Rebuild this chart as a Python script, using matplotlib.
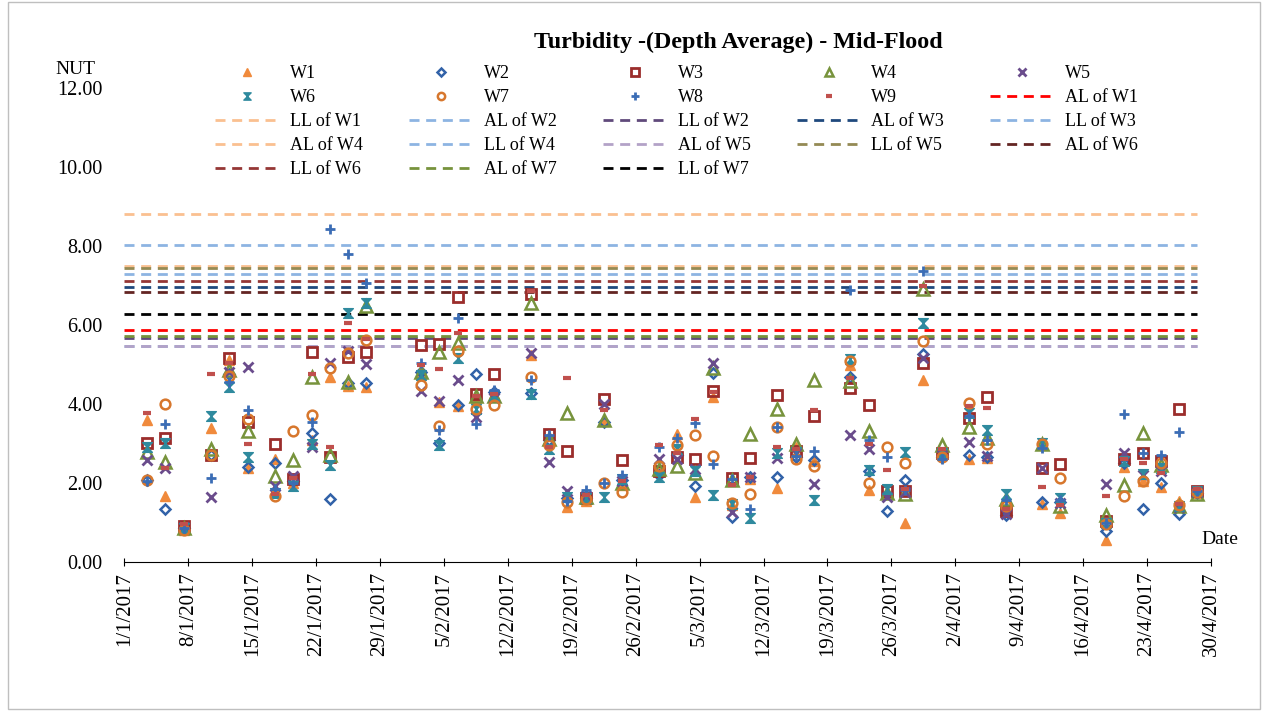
import matplotlib
matplotlib.use("Agg")
import matplotlib.pyplot as plt
from matplotlib.path import Path
import datetime as dt

plt.rcParams['font.family'] = ['Liberation Serif', 'DejaVu Serif']

dates = ["2017-01-03","2017-01-05","2017-01-07","2017-01-10","2017-01-12","2017-01-14","2017-01-17",
         "2017-01-19","2017-01-21","2017-01-23","2017-01-25","2017-01-27","2017-02-02","2017-02-04",
         "2017-02-06","2017-02-08","2017-02-10","2017-02-14","2017-02-16","2017-02-18","2017-02-20",
         "2017-02-22","2017-02-24","2017-02-28","2017-03-02","2017-03-04","2017-03-06","2017-03-08",
         "2017-03-10","2017-03-13","2017-03-15","2017-03-17","2017-03-21","2017-03-23","2017-03-25",
         "2017-03-27","2017-03-29","2017-03-31","2017-04-03","2017-04-05","2017-04-07","2017-04-11",
         "2017-04-13","2017-04-18","2017-04-20","2017-04-22","2017-04-24","2017-04-26","2017-04-28"]

w1 = [3.60,1.67,0.82,3.40,5.12,2.38,2.62,2.00,3.10,4.69,4.45,4.42,4.75,4.05,3.95,4.15,4.25,5.25,3.20,1.38,
      1.55,3.58,1.95,2.30,3.25,1.65,4.18,1.45,2.10,1.87,2.92,2.55,4.98,1.83,1.72,1.00,4.61,2.72,2.60,2.63,
      1.30,1.48,1.25,0.56,2.40,2.05,1.90,1.55,1.75]
w2 = [2.07,1.33,0.85,2.70,4.75,2.41,2.51,2.05,3.26,1.59,4.52,4.52,4.80,3.02,3.97,4.75,4.30,4.27,3.10,1.62,
      1.62,3.55,2.08,2.20,2.70,1.92,4.79,1.15,2.14,2.16,2.65,2.57,4.68,2.30,1.30,2.07,5.26,2.65,2.71,2.65,
      1.18,1.53,1.53,0.79,2.50,1.33,1.99,1.22,1.75]
w3 = [3.02,3.13,0.92,2.72,5.17,3.55,2.99,2.10,5.32,2.67,5.20,5.32,5.49,5.52,6.72,4.25,4.75,6.78,3.24,2.81,
      1.63,4.13,2.58,2.30,2.67,2.62,4.33,2.12,2.64,4.23,2.80,3.70,4.40,3.97,1.80,1.80,5.03,2.77,3.64,4.17,
      1.30,2.37,2.47,1.05,2.60,2.77,2.55,3.87,1.80]
w4 = [2.78,2.54,0.86,2.85,4.87,3.32,2.18,2.58,4.69,2.70,4.55,6.48,4.82,5.31,5.54,4.20,4.20,6.56,3.12,3.77,
      1.65,3.59,2.00,2.35,2.42,2.25,4.92,2.08,3.23,3.87,2.98,4.61,4.58,3.32,1.75,1.73,6.90,2.96,3.41,3.15,
      1.60,3.00,1.42,1.20,1.95,3.27,2.45,1.42,1.72]
w5 = [2.57,2.37,0.88,1.65,4.80,4.93,1.92,2.18,2.90,5.05,5.35,5.01,4.33,4.07,4.61,3.66,4.15,5.28,2.54,1.80,
      1.68,4.00,2.05,2.62,2.60,2.35,5.05,1.27,2.16,2.64,2.75,1.97,3.22,2.85,1.65,1.78,5.16,2.70,3.03,2.68,
      1.22,2.37,1.50,1.97,2.75,2.20,2.30,1.40,1.78]
w6 = [2.90,3.02,0.87,3.70,4.42,2.67,1.75,1.92,3.00,2.46,6.30,6.55,4.74,2.97,5.16,3.88,4.22,4.25,2.86,1.65,
      1.62,1.65,2.10,2.16,2.85,2.31,1.70,1.48,1.11,2.75,2.78,1.57,5.14,2.33,1.85,2.79,6.04,2.75,3.76,3.34,
      1.72,3.02,1.61,1.00,2.55,2.22,2.38,1.42,1.80]
w7 = [2.08,4.00,0.82,2.70,4.70,3.63,1.68,3.32,3.72,4.90,5.28,5.62,4.48,3.45,5.35,3.88,3.97,4.68,2.97,1.53,
      1.60,1.99,1.78,2.42,2.97,3.22,2.69,1.50,1.72,3.41,2.62,2.42,5.08,1.99,2.92,2.51,5.60,2.65,4.02,3.00,
      1.42,2.98,2.12,0.95,1.66,2.05,2.50,1.45,1.78]
w8 = [2.04,3.49,0.86,2.12,4.55,3.85,1.84,2.00,3.55,8.42,7.80,7.06,5.03,3.35,6.17,3.49,4.35,4.60,3.22,1.55,
      1.82,2.00,2.20,2.92,3.14,3.51,2.47,2.09,1.33,3.41,2.68,2.82,6.89,3.09,2.67,1.82,7.37,2.62,3.70,3.08,
      1.58,2.88,1.58,0.98,3.74,2.77,2.71,3.28,1.80]
w9 = [3.78,2.37,0.95,4.77,5.05,2.98,1.72,2.12,4.75,2.92,6.06,5.65,5.00,4.89,5.81,4.20,4.25,6.85,2.92,4.67,
      1.70,3.86,2.06,2.95,2.75,3.61,4.30,1.95,2.15,2.90,2.85,3.86,4.67,2.99,2.33,1.85,6.99,2.85,3.95,3.89,
      1.35,1.91,1.45,1.68,2.62,2.50,2.25,1.48,1.85]

series_names = ["W1", "W2", "W3", "W4", "W5", "W6", "W7", "W8", "W9"]

limit_names = ["AL of W1", "LL of W1", "AL of W2", "LL of W2", "AL of W3", "LL of W3", "AL of W4",
               "LL of W4", "AL of W5", "LL of W5", "AL of W6", "LL of W6", "AL of W7", "LL of W7"]
limit_values = [5.88, 8.80, 5.48, 5.66, 6.95, 7.28, 7.50, 8.03, 5.47, 7.45, 6.83, 7.12, 5.72, 6.27]
limit_start = "2017-01-01"
limit_end = "2017-04-28"

tick_labels = ["1/1/2017", "8/1/2017", "15/1/2017", "22/1/2017", "29/1/2017", "5/2/2017", "12/2/2017",
               "19/2/2017", "26/2/2017", "5/3/2017", "12/3/2017", "19/3/2017", "26/3/2017", "2/4/2017",
               "9/4/2017", "16/4/2017", "23/4/2017", "30/4/2017"]

# ---- styling ----
hourglass = Path([(-1, -1), (1, -1), (-1, 1), (1, 1), (-1, -1)],
                 [Path.MOVETO, Path.LINETO, Path.LINETO, Path.LINETO, Path.CLOSEPOLY])
series_styles = [
    dict(marker='^', color='#F08A3C', mfc='#F08A3C', ms=7),
    dict(marker='D', color='#3262A8', mfc='none', ms=5, mew=1.8),
    dict(marker='s', color='#9B2D2B', mfc='none', ms=7, mew=2.0),
    dict(marker='^', color='#77933C', mfc='none', ms=8, mew=1.8),
    dict(marker='x', color='#6A4C8C', ms=7, mew=2.0),
    dict(marker=hourglass, color='#2F8A9E', mfc='#2F8A9E', ms=7),
    dict(marker='o', color='#D7772D', mfc='none', ms=7, mew=1.8),
    dict(marker='+', color='#3B6DB5', ms=7, mew=2.0),
    dict(marker='_', color='#C0504D', ms=6, mew=3.0),
]
limit_colors = ['#FF0000', '#FAC090', '#8DB4E2', '#604A7B', '#1F497D', '#8DB4E2', '#FAC090',
                '#8DB4E2', '#B3A2C7', '#948A54', '#632523', '#953735', '#77933C', '#000000']

W, H = 1268, 713
fig = plt.figure(figsize=(W / 100, H / 100), dpi=100)
ax = fig.add_axes([124.4 / W, 1 - 562 / H, (1211 - 124.4) / W, (562 - 88) / H])

half_day = dt.timedelta(hours=12)
xd = [dt.datetime.strptime(d, "%Y-%m-%d") + half_day for d in dates]

handles = []
for name, vals, st in zip(series_names, [w1, w2, w3, w4, w5, w6, w7, w8, w9], series_styles):
    h, = ax.plot(xd, vals, linestyle='none', label=name, zorder=3, **st)
    handles.append(h)

x0 = dt.datetime.strptime(limit_start, "%Y-%m-%d")
x1 = dt.datetime.strptime(limit_end, "%Y-%m-%d") + half_day
for name, v, c in zip(limit_names, limit_values, limit_colors):
    h, = ax.plot([x0, x1], [v, v], color=c, lw=2.0, dashes=(3.6, 2.4), label=name, zorder=2)
    handles.append(h)

ax.set_xlim(dt.datetime(2017, 1, 1), dt.datetime(2017, 4, 30))
ax.set_ylim(0, 12)
ax.set_yticks([0, 2, 4, 6, 8, 10, 12])
ax.set_yticklabels([f"{v:.2f}" for v in [0, 2, 4, 6, 8, 10, 12]], fontsize=14.5)
tick_dates = [dt.datetime(2017, 1, 1) + dt.timedelta(days=7 * i) for i in range(len(tick_labels))]
ax.set_xticks(tick_dates)
ax.set_xticklabels(tick_labels, rotation=90, fontsize=15)

for s in ['top', 'right', 'left']:
    ax.spines[s].set_visible(False)
ax.spines['bottom'].set_color('#000000')
ax.spines['bottom'].set_linewidth(0.8)
ax.tick_params(axis='x', direction='inout', length=6, width=0.8, pad=4)
ax.tick_params(axis='y', length=0, pad=15.5)

fig.text(738 / W, 1 - 42 / H, "Turbidity -(Depth Average) - Mid-Flood", ha='center', va='center',
         fontsize=17.3, fontweight='bold')
fig.text(75 / W, 1 - 70 / H, "NUT", ha='center', va='center', fontsize=14)
fig.text(1220 / W, 1 - 540 / H, "Date", ha='center', va='center', fontsize=14)

# Excel fills the legend row by row; matplotlib fills column by column -> reorder
ncol = 5
nrow = -(-len(handles) // ncol)
ordered = []
for c in range(ncol):
    for r in range(nrow):
        i = r * ncol + c
        if i < len(handles):
            ordered.append(handles[i])

leg = fig.legend(handles=ordered, loc='upper left', bbox_to_anchor=(215 / W, 1 - 65 / H), ncol=ncol,
                 frameon=False, fontsize=13, handlelength=3.55, handletextpad=0.6, columnspacing=2.55,
                 labelspacing=0.39, borderpad=0, borderaxespad=0, markerscale=0.75)

fig.patches.append(plt.Rectangle((8 / W, 4 / H), (W - 16) / W, (H - 6) / H, transform=fig.transFigure,
                                 fill=False, edgecolor='#BFBFBF', lw=1))
fig.savefig("out.png", dpi=100)
